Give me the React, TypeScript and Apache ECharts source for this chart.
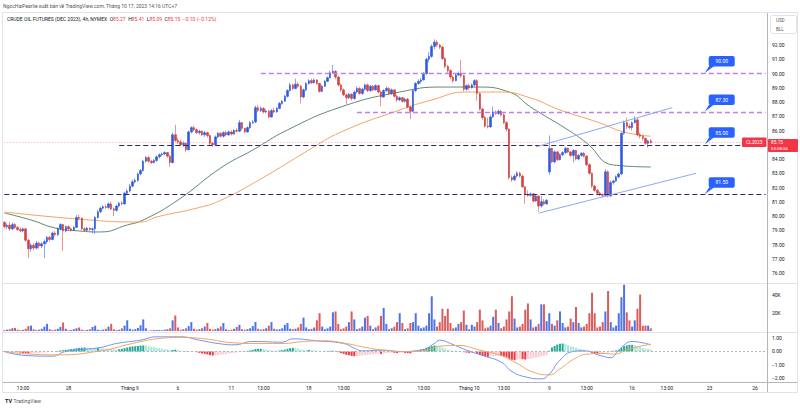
import React, { useEffect, useRef } from "react";
import * as echarts from "echarts";

// 4h candles, [open, close, low, high] — one row per trading day (6 bars)
const candles: number[][] = [
  [79.55,79.25,79.15,79.65],[79.25,79.35,79.10,79.50],[79.35,79.10,78.95,79.60],[79.10,79.40,79.00,79.55],[79.40,79.20,79.10,79.50],[79.20,79.05,78.95,79.30],
  [79.05,78.95,78.85,79.20],[78.95,79.10,78.85,79.20],[79.10,78.30,78.20,79.15],[78.30,77.70,77.05,78.40],[77.70,77.95,77.50,78.10],[77.95,77.75,77.60,78.10],
  [77.75,78.10,77.65,78.25],[78.10,77.90,77.70,78.20],[77.90,78.05,77.75,78.15],[78.05,78.20,77.05,78.35],[78.20,78.50,78.05,78.60],[78.50,78.35,78.20,78.60],
  [78.35,78.80,78.30,78.90],[78.80,78.70,78.55,78.95],[78.70,79.10,78.60,79.20],[79.10,79.40,79.00,79.50],[79.40,78.95,77.55,79.45],[78.95,79.25,78.85,79.35],
  [79.25,79.10,79.00,79.35],[79.10,79.00,78.90,79.20],[79.00,79.20,78.95,79.30],[79.20,79.90,79.15,80.05],[79.90,79.85,79.70,80.10],[79.85,79.10,79.00,79.90],
  [79.10,79.00,78.90,79.20],[79.00,79.15,78.90,79.25],[79.15,79.05,78.95,79.20],[79.05,79.10,78.80,79.20],[79.10,79.90,78.75,80.00],[79.90,80.30,79.80,80.45],
  [80.30,80.55,80.20,80.65],[80.55,80.65,80.45,80.75],[80.65,80.60,80.50,80.80],[80.60,80.85,80.50,80.95],[80.85,80.50,80.40,81.00],[80.50,80.40,80.00,80.60],
  [80.40,80.70,80.30,80.80],[80.70,80.90,80.60,81.00],[80.90,80.85,80.75,81.05],[80.85,81.60,80.80,81.70],[81.60,81.75,81.50,81.90],[81.75,82.10,81.65,82.25],
  [82.10,82.40,82.00,82.55],[82.40,82.50,82.30,82.65],[82.50,82.95,82.40,83.05],[82.95,83.20,82.85,83.30],[83.20,83.85,83.10,83.95],[83.85,84.10,83.75,84.20],
  [84.10,83.85,83.75,84.20],[83.85,83.75,83.65,83.95],[83.75,83.90,83.70,84.00],[83.90,84.15,83.80,84.25],[84.15,84.30,84.05,84.40],[84.30,84.35,84.20,84.45],
  [84.35,84.45,84.25,84.55],[84.45,84.20,84.10,84.50],[84.20,83.75,83.45,84.30],[83.75,85.70,83.70,85.85],[85.70,85.30,85.20,86.40],[85.30,85.20,85.05,85.50],
  [85.20,85.00,84.90,85.35],[85.00,85.10,84.85,85.25],[85.10,84.65,84.50,85.15],[84.65,85.90,84.60,86.00],[85.90,86.20,85.80,86.30],[86.20,86.05,85.95,86.35],
  [86.05,85.85,85.75,86.15],[85.85,85.95,85.70,86.05],[85.95,85.70,85.60,86.00],[85.70,85.85,85.55,85.95],[85.85,85.65,85.50,85.90],[85.65,85.10,84.95,85.70],
  [85.10,85.00,84.85,85.20],[85.00,85.55,84.95,85.65],[85.55,85.80,85.45,85.90],[85.80,85.60,85.50,85.90],[85.60,85.85,85.50,85.95],[85.85,85.70,85.60,86.00],
  [85.70,85.90,85.60,86.00],[85.90,85.75,85.65,86.00],[85.75,86.00,85.70,86.10],[86.00,85.95,85.85,86.15],[85.95,86.55,85.90,86.75],[86.55,86.15,86.00,86.60],
  [86.15,85.90,85.80,86.20],[85.90,86.20,85.85,86.30],[86.20,86.55,86.10,86.65],[86.55,86.60,86.45,86.75],[86.60,87.60,86.50,87.75],[87.60,87.40,87.30,87.80],
  [87.40,87.55,87.30,87.70],[87.55,87.30,87.20,87.65],[87.30,87.35,87.20,87.50],[87.35,86.95,86.85,87.45],[86.95,87.40,86.90,87.50],[87.40,87.30,87.20,87.60],
  [87.30,87.55,87.25,87.65],[87.55,87.90,87.50,88.00],[87.90,88.05,87.80,88.15],[88.05,88.40,88.00,88.50],[88.40,88.80,88.30,88.90],[88.80,89.20,88.75,89.35],
  [89.20,88.95,88.85,89.30],[88.95,89.25,88.90,89.65],[89.25,89.10,89.00,89.40],[89.10,88.35,87.90,89.20],[88.35,88.85,88.25,88.95],[88.85,89.30,88.75,89.40],
  [89.30,89.50,89.20,89.60],[89.50,89.35,89.25,89.65],[89.35,89.55,89.30,89.65],[89.55,89.30,89.20,89.60],[89.30,88.75,88.65,89.35],[88.75,89.10,88.70,89.20],
  [89.10,89.45,89.05,89.55],[89.45,89.70,89.40,89.80],[89.70,90.05,89.65,90.20],[90.05,90.15,90.00,90.60],[90.15,89.75,89.60,90.25],[89.75,89.20,89.10,89.85],
  [89.20,88.85,88.70,89.30],[88.85,88.50,88.40,88.95],[88.50,88.30,87.85,88.60],[88.30,88.55,88.20,88.65],[88.55,88.25,88.10,88.60],[88.25,88.70,88.15,88.80],
  [88.70,88.95,88.60,89.10],[88.95,88.60,88.50,89.05],[88.60,88.90,88.50,89.00],[88.90,89.20,88.80,89.30],[89.20,88.80,88.70,89.30],[88.80,89.10,88.70,89.20],
  [89.10,88.85,88.75,89.20],[88.85,89.15,88.80,89.25],[89.15,88.70,88.60,89.20],[88.70,88.35,87.70,88.80],[88.35,88.80,88.30,88.90],[88.80,88.95,88.70,89.10],
  [88.95,88.60,88.50,89.05],[88.60,88.85,88.50,88.95],[88.85,88.40,88.30,88.90],[88.40,88.15,88.00,88.50],[88.15,88.30,88.05,88.40],[88.30,88.05,87.95,88.35],
  [88.05,88.20,87.95,88.30],[88.20,87.65,87.55,88.30],[87.65,87.35,86.80,87.75],[87.35,88.80,87.30,88.90],[88.80,89.30,88.70,89.40],[89.30,89.45,89.20,89.60],
  [89.45,89.55,89.30,89.70],[89.55,90.00,89.50,90.10],[90.00,91.00,89.90,91.10],[91.00,91.20,90.80,91.50],[91.20,91.90,91.10,92.05],[91.90,92.20,91.70,92.40],
  [92.20,92.00,91.85,92.35],[92.00,91.85,91.70,92.10],[91.85,91.05,90.95,91.95],[91.05,90.50,90.35,91.15],[90.50,90.20,90.05,90.60],[90.20,89.75,89.60,90.30],
  [89.75,89.50,89.35,89.85],[89.50,89.90,89.45,90.00],[89.90,90.00,89.80,90.15],[90.00,89.85,89.70,90.95],[89.85,88.90,88.75,89.90],[88.90,89.15,88.80,89.25],
  [89.15,89.00,88.85,89.30],[89.00,89.20,88.95,89.30],[89.20,89.50,89.10,89.60],[89.50,88.60,88.10,89.60],[88.60,87.50,87.40,88.65],[87.50,86.90,86.75,87.60],
  [86.90,86.30,86.20,87.05],[86.30,86.25,86.15,86.90],[86.25,86.95,86.20,87.10],[86.95,87.30,86.90,87.70],[87.30,87.20,87.10,87.40],[87.20,87.35,87.10,87.45],
  [87.35,87.10,87.00,87.45],[87.10,86.55,86.45,87.20],[86.55,86.10,85.95,86.65],[86.10,82.70,82.55,86.15],[82.70,82.55,82.40,82.85],[82.55,82.80,82.45,82.95],
  [82.80,83.00,82.70,83.15],[83.00,82.80,82.70,83.10],[82.80,82.05,81.95,82.90],[82.05,81.50,80.85,82.10],[81.50,81.45,81.35,81.80],[81.45,81.55,81.35,81.65],
  [81.55,81.05,80.95,81.60],[81.05,81.40,81.00,81.50],[81.40,80.70,80.30,81.45],[80.70,81.00,80.60,81.40],[81.00,80.85,80.75,81.20],[80.85,81.10,80.80,81.20],
  [83.10,84.75,82.90,85.65],[84.75,83.80,83.70,84.80],[83.80,84.50,83.70,84.60],[84.50,83.95,83.85,84.55],[83.95,84.30,83.90,84.40],[84.30,84.45,84.20,84.55],
  [84.45,84.75,84.35,84.85],[84.75,84.50,84.40,84.80],[84.50,84.25,84.15,84.55],[84.25,84.60,83.75,84.70],[84.60,84.00,83.90,84.65],[84.00,84.25,83.90,84.35],
  [84.25,84.40,84.15,84.50],[84.40,84.20,84.10,84.50],[84.20,83.60,83.50,84.25],[83.60,83.00,82.90,83.70],[83.00,82.10,81.95,83.05],[82.10,81.80,81.70,82.20],
  [81.80,81.60,81.50,81.90],[81.60,81.50,81.40,81.70],[81.50,81.45,81.30,81.60],[81.45,83.10,81.40,83.30],[83.10,81.40,81.30,83.20],[81.40,82.35,81.35,82.50],
  [82.35,82.45,82.20,82.55],[82.45,82.75,82.40,82.85],[82.75,82.95,82.65,83.05],[82.95,85.80,82.90,85.90],[85.80,86.55,85.70,86.70],[86.55,86.30,86.10,86.90],
  [86.30,86.20,86.10,86.45],[86.20,86.55,86.00,86.65],[86.55,86.75,86.50,87.00],[86.75,85.70,85.60,86.85],[85.70,85.60,85.45,85.85],[85.60,85.45,85.30,85.70],
  [85.45,85.10,85.00,85.50],[85.10,85.27,84.80,85.35],[85.27,85.15,85.09,85.41],
];

// volume in thousands of contracts
const volumes: number[] = [
  1.0,1.5,2.0,3.0,3.5,1.5, 1.0,1.2,2.5,5.5,6.0,2.0, 1.0,1.5,2.5,5.0,8.0,2.0, 1.0,1.5,2.5,4.5,9.5,2.5,
  0.8,1.2,2.0,3.0,4.0,1.5, 0.8,1.2,2.0,4.5,6.0,1.5, 1.0,1.5,2.5,5.0,8.0,2.0, 1.0,1.5,3.0,6.0,12.0,2.5,
  1.5,2.0,3.5,6.5,13.0,3.0, 0.5,0.8,1.0,1.2,1.0,0.8, 1.5,2.0,3.0,12.0,17.5,4.0, 1.5,2.0,3.0,5.5,10.0,2.5,
  1.5,2.0,3.0,5.0,9.0,2.5, 1.5,2.0,3.0,5.0,9.0,2.0, 1.0,1.5,2.5,4.5,7.0,2.0, 1.5,2.0,3.0,5.5,10.0,2.5,
  1.5,2.0,3.0,6.0,10.0,2.5, 1.5,2.0,3.0,7.0,9.0,2.5, 2.0,2.5,4.0,8.0,15.0,4.0, 2.0,2.5,4.0,12.0,20.0,5.0,
  2.0,3.0,5.0,21.0,22.0,8.0, 2.0,3.0,5.0,10.0,22.0,13.0, 2.0,3.0,5.0,15.0,17.0,6.0, 2.0,4.0,6.0,17.0,26.0,8.0,
  2.0,3.0,5.0,10.0,20.0,9.0, 2.0,3.0,9.0,10.0,20.0,6.0, 3.0,4.0,6.0,20.0,39.0,13.0, 5.0,10.0,25.0,17.0,25.0,9.0,
  3.0,4.0,8.0,10.0,23.0,7.0, 2.0,7.0,5.0,10.0,24.0,12.0, 3.0,4.0,6.0,16.0,24.0,9.0, 3.0,5.0,13.0,22.0,39.0,14.0,
  4.0,5.0,8.0,24.0,31.0,13.0, 4.0,5.0,8.0,30.0,30.0,11.0, 20.0,8.0,6.0,12.0,22.0,9.0, 4.0,5.0,14.0,10.0,27.0,9.0,
  4.0,5.0,8.0,20.0,43.0,20.0, 4.0,5.0,10.0,22.0,45.0,10.0, 4.0,6.0,20.0,38.0,52.0,21.0, 12.0,5.0,12.0,25.0,41.0,6.0,
  6.0,6.0,3.0,
];

// MACD histogram per bar
const macdHist: number[] = [
  0.03,0.04,0.03,0.02,-0.02,-0.05, -0.08,-0.1,-0.12,-0.15,-0.14,-0.12, -0.12,-0.1,-0.09,-0.07,-0.05,-0.04,
  -0.02,0.0,0.04,0.08,0.1,0.12, 0.15,0.18,0.2,0.24,0.27,0.28, 0.3,0.29,0.27,0.26,0.25,0.26,
  0.25,0.23,0.22,0.2,0.18,0.17, 0.16,0.17,0.2,0.25,0.3,0.35, 0.38,0.4,0.42,0.44,0.45,0.44,
  0.4,0.36,0.32,0.28,0.25,0.22, 0.18,0.15,0.1,0.12,0.14,0.1, 0.06,0.02,-0.02,0.0,0.03,0.02,
  -0.05,-0.1,-0.14,-0.18,-0.22,-0.27, -0.3,-0.28,-0.25,-0.24,-0.2,-0.18, -0.15,-0.12,-0.1,-0.08,-0.04,-0.02,
  0.02,0.05,0.08,0.12,0.18,0.2, 0.2,0.18,0.15,0.1,0.08,0.06, 0.05,0.07,0.1,0.14,0.2,0.25,
  0.27,0.25,0.22,0.15,0.13,0.12, 0.12,0.1,0.09,0.06,0.02,0.0, 0.02,0.03,0.05,0.06,0.02,-0.05,
  -0.12,-0.18,-0.25,-0.28,-0.33,-0.35, -0.35,-0.33,-0.3,-0.27,-0.25,-0.22, -0.2,-0.18,-0.17,-0.18,-0.15,-0.12,
  -0.1,-0.09,-0.1,-0.11,-0.1,-0.09, -0.1,-0.12,-0.14,-0.05,0.05,0.12, 0.16,0.2,0.28,0.34,0.4,0.45,
  0.44,0.38,0.3,0.22,0.15,0.08, 0.05,0.05,0.04,0.02,-0.05,-0.08, -0.1,-0.1,-0.08,-0.15,-0.25,-0.32,
  -0.38,-0.4,-0.38,-0.35,-0.34,-0.32, -0.33,-0.38,-0.42,-0.58,-0.62,-0.65, -0.6,-0.57,-0.58,-0.6,-0.58,-0.54,
  -0.5,-0.45,-0.42,-0.38,-0.33,-0.28, 0.05,0.3,0.42,0.52,0.58,0.6, 0.55,0.48,0.4,0.35,0.28,0.22,
  0.18,0.12,0.05,-0.03,-0.1,-0.14, -0.15,-0.15,-0.14,0.0,-0.05,0.02, 0.05,0.08,0.12,0.28,0.4,0.45,
  0.5,0.5,0.47,0.4,0.33,0.27, 0.22,0.18,0.15,
];

// [bar index, value]
const macdLine: number[][] = [
  [0,0.0],[8,-0.3],[18,-0.35],[23,0.0],[36,0.3],[42,0.6],[51,0.85],[57,1.1],[66,1.1],[73,0.85],[80,0.6],[86,0.5],
  [93,0.75],[104,0.7],[108,0.95],[117,0.8],[127,0.6],[131,0.25],[134,0.05],[142,0.1],[148,0.0],[156,0.1],[161,0.6],
  [163,0.85],[167,0.6],[173,0.1],[179,-0.3],[186,-0.8],[190,-1.5],[195,-1.9],[201,-2.05],[204,-1.7],[208,-0.65],
  [213,0.0],[217,0.05],[223,-0.3],[227,-0.45],[230,0.1],[235,0.75],[239,0.65],[242,0.5],
];
const signalLine: number[][] = [
  [0,0.0],[10,-0.2],[20,-0.25],[36,0.05],[48,0.6],[57,0.95],[66,1.05],[75,0.95],[86,0.65],[95,0.6],[104,0.6],
  [112,0.75],[120,0.8],[128,0.6],[134,0.35],[142,0.1],[150,0.0],[158,0.1],[163,0.4],[170,0.45],[178,0.1],
  [186,-0.3],[192,-0.9],[198,-1.55],[204,-1.75],[208,-1.3],[213,-0.6],[218,-0.2],[224,-0.15],[228,-0.2],[234,0.2],[242,0.55],
];
const maGreen: number[][] = [
  [0,80.21],[10,79.72],[19,79.16],[28,78.95],[36,78.88],[46,79.37],[52,79.72],[65,81.12],[81,83.37],[93,84.63],
  [106,86.04],[126,87.65],[148,88.70],[164,89.05],[177,89.05],[189,88.70],[197,87.65],[211,86.04],[218,85.12],
  [228,83.58],[242,83.44],
];
const maOrange: number[][] = [
  [0,80.28],[32,79.72],[51,79.58],[57,79.93],[73,80.6],[81,81.1],[96,82.6],[114,84.63],[126,85.89],[148,87.44],
  [160,88.14],[173,88.70],[186,88.70],[197,88.28],[208,87.44],[223,86.53],[232,85.89],[242,85.6],
];

const xLabelIndex = [7, 24, 47, 65, 85, 97, 114, 127, 144, 157, 174, 187, 204, 218, 235, 248, 264, 281];
const xLabelText = ["13:00", "28", "Tháng 9", "6", "11", "13:00", "18", "13:00", "25", "13:00", "Tháng 10", "13:00", "9", "13:00", "16", "13:00", "23", "26"];

const levelPrices = [90, 87.3, 85, 81.5];
const levelStart = [96, 132, 43, 0];
const channelUpper = [[199, 84.85], [250, 87.6]];
const channelLower = [[200, 80.2], [259, 83.0]];
const volumeTicks = [20, 40];
const lastPrice = 85.15;
const SLOTS = 286;
const TAG_INDEX = 262;

const FONT = "Roboto, 'Liberation Sans', Arial, sans-serif";
const UP = "#2f5be3";
const DOWN = "#d5403f";

export default function App() {
  const ref = useRef<HTMLDivElement>(null);

  useEffect(() => {
    const el = ref.current;
    if (!el) return;
    const chart = echarts.init(el, null, { renderer: "svg" });

    const cats = Array.from({ length: SLOTS }, (_, i) => "b" + i);
    const labelMap: Record<number, string> = {};
    xLabelIndex.forEach((idx, k) => (labelMap[idx] = xLabelText[k]));

    const bodies = candles.map(([o, c]) => [o, c, Math.min(o, c), Math.max(o, c)]);
    const volData = volumes.map((v, i) => ({
      value: v,
      itemStyle: { color: candles[i][1] >= candles[i][0] ? "rgba(47,91,227,0.85)" : "rgba(213,64,63,0.85)" },
    }));
    const histData = macdHist.map((v, i) => {
      const p = i > 0 ? macdHist[i - 1] : 0;
      const color = v >= 0 ? (v >= p ? "#22ab94" : "#ace5dc") : v < p ? "#f23645" : "#fccbcd";
      return { value: v, itemStyle: { color } };
    });

    const levelColors = ["#c27cf5", "#c27cf5", "#35226a", "#35226a"];
    const levelWidths = [1.3, 1.3, 1.1, 1.1];
    const markLines: any[] = levelPrices.map((p, k) => [
      { coord: [levelStart[k], p], lineStyle: { color: levelColors[k], type: [5, 3], width: levelWidths[k] } },
      { coord: [SLOTS - 1, p] },
    ]);
    markLines.push([
      { coord: [0, lastPrice], lineStyle: { color: "rgba(242,54,69,0.45)", type: [1, 2], width: 1 } },
      { coord: [SLOTS - 1, lastPrice] },
    ]);
    [channelUpper, channelLower].forEach((ln) =>
      markLines.push([
        { coord: ln[0], lineStyle: { color: "#8ea7f2", type: "solid", width: 1 } },
        { coord: ln[1] },
      ])
    );

    const axisLabelBase = { fontSize: 5, color: "#131722", fontFamily: FONT, margin: 5 };
    const hiddenX = (g: number) => ({ type: "category", gridIndex: g, data: cats, show: false });

    const option: any = {
      animation: false,
      backgroundColor: "#ffffff",
      grid: [
        { left: 3, width: 764, top: 16.5, height: 270.75 },
        { left: 3, width: 764, top: 283, height: 48 },
        { left: 3, width: 764, top: 324.83, height: 66.67 },
        { left: 3, width: 764, top: 381.5, height: 1 },
      ],
      xAxis: [
        hiddenX(0),
        hiddenX(1),
        hiddenX(2),
        {
          type: "category",
          gridIndex: 3,
          data: cats,
          axisLine: { show: false },
          axisTick: { show: false },
          splitLine: { show: false },
          axisLabel: {
            ...axisLabelBase,
            margin: 3,
            interval: (i: number) => labelMap[i] !== undefined,
            formatter: (_v: string, i: number) => labelMap[i] || "",
          },
        },
      ],
      yAxis: [
        {
          type: "value", gridIndex: 0, position: "right", min: 75, max: 94, interval: 1,
          splitLine: { show: false }, axisLine: { show: false }, axisTick: { show: false },
          // the label hidden under the last-price tag is skipped, as in the source chart
          axisLabel: {
            ...axisLabelBase,
            formatter: (v: number) =>
              v >= 76 && v <= 92 && Math.abs(v - lastPrice) > 0.5 ? v.toFixed(2) : "",
          },
        },
        {
          type: "value", gridIndex: 1, position: "right", min: 0, max: 54, interval: 20,
          splitLine: { show: false }, axisLine: { show: false }, axisTick: { show: false },
          axisLabel: { ...axisLabelBase, formatter: (v: number) => (volumeTicks.includes(v) ? v + "K" : "") },
        },
        {
          type: "value", gridIndex: 2, position: "right", min: -3, max: 2, interval: 1,
          splitLine: { show: false }, axisLine: { show: false }, axisTick: { show: false },
          axisLabel: {
            ...axisLabelBase,
            formatter: (v: number) => (v >= -2 && v <= 1 ? (v < 0 ? "\u2212" : "") + Math.abs(v).toFixed(2) : ""),
          },
        },
        { type: "value", gridIndex: 3, show: false },
      ],
      series: [
        {
          type: "candlestick", xAxisIndex: 0, yAxisIndex: 0, data: candles, barWidth: 1,
          itemStyle: {
            color: "rgba(47,91,227,0.55)", color0: "rgba(213,64,63,0.55)",
            borderColor: "rgba(47,91,227,0.55)", borderColor0: "rgba(213,64,63,0.55)", borderWidth: 1,
          },
          silent: true,
        },
        {
          type: "candlestick", xAxisIndex: 0, yAxisIndex: 0, data: bodies, barWidth: 2,
          itemStyle: { color: UP, color0: DOWN, borderColor: UP, borderColor0: DOWN, borderWidth: 0.6 },
          silent: true,
          markLine: { silent: true, symbol: ["none", "none"], label: { show: false }, data: markLines },
        },
        {
          type: "line", xAxisIndex: 0, yAxisIndex: 0, data: maGreen, smooth: 0.5, showSymbol: false,
          lineStyle: { color: "#5e8a6f", width: 1 }, silent: true, z: 1,
        },
        {
          type: "line", xAxisIndex: 0, yAxisIndex: 0, data: maOrange, smooth: 0.5, showSymbol: false,
          lineStyle: { color: "#f5a263", width: 1 }, silent: true, z: 1,
        },
        { type: "bar", xAxisIndex: 1, yAxisIndex: 1, data: volData, barWidth: 2, silent: true },
        {
          type: "bar", xAxisIndex: 2, yAxisIndex: 2, data: histData, barWidth: 2, silent: true,
          markLine: {
            silent: true, symbol: ["none", "none"], label: { show: false },
            lineStyle: { color: "#b2b5be", type: [2, 2], width: 1 },
            data: [{ yAxis: 0 }],
          },
        },
        {
          type: "line", xAxisIndex: 2, yAxisIndex: 2, data: macdLine, smooth: 0.5, showSymbol: false,
          lineStyle: { color: "#6f93f2", width: 1 }, silent: true,
        },
        {
          type: "line", xAxisIndex: 2, yAxisIndex: 2, data: signalLine, smooth: 0.5, showSymbol: false,
          lineStyle: { color: "#f6a35e", width: 1 }, silent: true,
        },
      ],
    };
    chart.setOption(option);

    const px = (i: number, v: number) =>
      chart.convertToPixel({ xAxisIndex: 0, yAxisIndex: 0 }, [i, v]) as number[];

    const g: any[] = [];
    // frame & separators
    g.push({ type: "rect", shape: { x: 2.5, y: 12.5, width: 795, height: 380 }, style: { fill: "none", stroke: "#e0e3eb", lineWidth: 1 }, silent: true });
    g.push({ type: "line", shape: { x1: 3, y1: 283.5, x2: 797, y2: 283.5 }, style: { stroke: "#e0e3eb", lineWidth: 1 }, silent: true });
    g.push({ type: "line", shape: { x1: 3, y1: 332.5, x2: 797, y2: 332.5 }, style: { stroke: "#e0e3eb", lineWidth: 1 }, silent: true });
    g.push({ type: "line", shape: { x1: 3, y1: 382.5, x2: 797, y2: 382.5 }, style: { stroke: "#b2b5be", lineWidth: 1 }, silent: true });
    g.push({ type: "line", shape: { x1: 767.5, y1: 13, x2: 767.5, y2: 392 }, style: { stroke: "#b2b5be", lineWidth: 1 }, silent: true });

    // texts
    g.push({
      type: "text", x: 3, y: 6, silent: true,
      style: { text: "NgocHaiPearlie xuất bản về TradingView.com, Tháng 10 17, 2023 14:16 UTC+7", fill: "#555", fontSize: 5, fontFamily: FONT, verticalAlign: "middle", align: "left" },
    });
    g.push({
      type: "text", x: 7, y: 18.5, silent: true,
      style: {
        text: "{t|CRUDE OIL FUTURES (DEC 2023), 4h, NYMEX}  {k|O}{v|85.27}  {k|H}{v|85.41}  {k|L}{v|85.09}  {k|C}{v|85.15}  {v|\u22120.10 (\u22120.12%)}",
        fontSize: 5, fontFamily: FONT, verticalAlign: "middle", align: "left", fill: "#131722",
        rich: {
          t: { fill: "#131722", fontSize: 5, fontFamily: FONT },
          k: { fill: "#131722", fontSize: 5, fontFamily: FONT },
          v: { fill: "#f23645", fontSize: 5, fontFamily: FONT },
        },
      },
    });
    // USD / BLL box
    g.push({ type: "rect", shape: { x: 770.5, y: 15.5, width: 26, height: 18, r: 2 }, style: { fill: "#fff", stroke: "#e0e3eb", lineWidth: 1 }, silent: true });
    g.push({ type: "text", x: 776, y: 20.5, silent: true, style: { text: "USD", fill: "#555", fontSize: 4.5, fontFamily: FONT, verticalAlign: "middle" } });
    g.push({ type: "text", x: 776, y: 29, silent: true, style: { text: "BLL", fill: "#555", fontSize: 4.5, fontFamily: FONT, verticalAlign: "middle" } });
    // TradingView mark
    g.push({ type: "text", x: 5, y: 400.5, silent: true, style: { text: "TV", fill: "#131722", fontSize: 5.5, fontWeight: "bold", fontFamily: FONT, verticalAlign: "middle" } });
    g.push({ type: "text", x: 13.5, y: 400.5, silent: true, style: { text: "TradingView", fill: "#555", fontSize: 5, fontFamily: FONT, verticalAlign: "middle" } });

    // level tags
    levelPrices.forEach((p) => {
      const [x, y] = px(TAG_INDEX, p);
      g.push({
        type: "polygon", silent: true, z: 50,
        shape: { points: [[x + 0.5, y - 0.5], [x + 5, y - 7.5], [x + 10, y - 7.5]] },
        style: { fill: "#2962ff" },
      });
      g.push({ type: "rect", silent: true, z: 50, shape: { x: x + 4.5, y: y - 17.5, width: 26, height: 10.5, r: 2 }, style: { fill: "#2962ff" } });
      g.push({
        type: "text", silent: true, z: 51, x: x + 17.5, y: y - 12.2,
        style: { text: p.toFixed(2), fill: "#fff", fontSize: 5, fontFamily: FONT, align: "center", verticalAlign: "middle" },
      });
    });

    // last price tags
    const ly = px(242, lastPrice)[1];
    g.push({ type: "rect", silent: true, z: 60, shape: { x: 742, y: ly - 5, width: 24.5, height: 9.5, r: 1 }, style: { fill: "#f23645" } });
    g.push({ type: "text", silent: true, z: 61, x: 754.2, y: ly - 0.2, style: { text: "CL2023", fill: "#fff", fontSize: 4.8, fontFamily: FONT, align: "center", verticalAlign: "middle" } });
    g.push({ type: "rect", silent: true, z: 60, shape: { x: 768, y: ly - 3.5, width: 30, height: 13, r: 1 }, style: { fill: "#f23645" } });
    g.push({ type: "text", silent: true, z: 61, x: 771, y: ly + 0.1, style: { text: lastPrice.toFixed(2), fill: "#fff", fontSize: 4.8, fontFamily: FONT, verticalAlign: "middle" } });
    g.push({ type: "text", silent: true, z: 61, x: 771, y: ly + 6.2, style: { text: "03:08:56", fill: "#fff", fontSize: 4.4, fontFamily: FONT, verticalAlign: "middle" } });

    chart.setOption({ graphic: g });

    return () => chart.dispose();
  }, []);

  return (
    <div
      ref={ref}
      style={{ position: "fixed", left: 0, top: 0, width: 800, height: 409, background: "#fff" }}
    />
  );
}
